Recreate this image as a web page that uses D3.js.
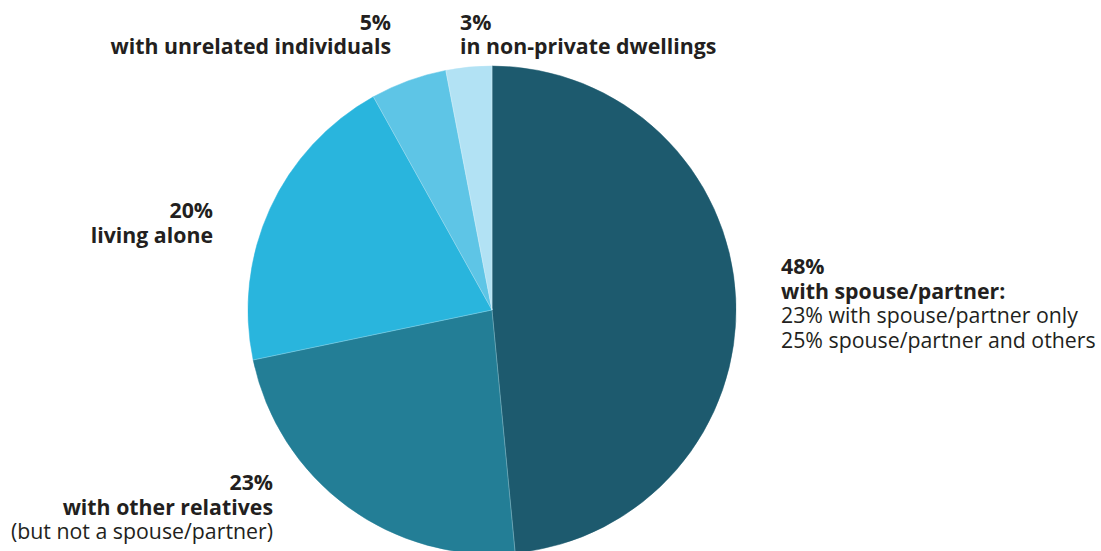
<!DOCTYPE html>
<html>
<head>
<meta charset="utf-8">
<script src="https://cdn.jsdelivr.net/npm/d3@7/dist/d3.min.js"></script>
<style>
  html, body { margin: 0; padding: 0; background: #ffffff; }
  svg { display: block; }
  text { font-family: "Open Sans", "Noto Sans", sans-serif; fill: #231f20; font-size: 21.3px; }
  .b { font-weight: 700; }
</style>
</head>
<body>
<svg id="chart" width="1101" height="551"></svg>
<script>
// Living arrangements, share of people (%)
const categories = ["with spouse/partner", "with other relatives", "living alone", "with unrelated individuals", "in non-private dwellings"];
const shares = [48, 23, 20, 5, 3];
const colors = ["#1d5a6e", "#237e96", "#29b5dd", "#5ec5e6", "#b2e2f4"];

// Label blocks: each line is [text, bold]
const labelLines = [
  [["48%", true], ["with spouse/partner:", true], ["23% with spouse/partner only", false], ["25% spouse/partner and others", false]],
  [["23%", true], ["with other relatives", true], ["(but not a spouse/partner)", false]],
  [["20%", true], ["living alone", true]],
  [["5%", true], ["with unrelated individuals", true]],
  [["3%", true], ["in non-private dwellings", true]]
];
// anchor point (first baseline) and alignment per label
const labelAnchors = [
  { x: 781, y: 274, align: "start" },
  { x: 273, y: 490, align: "end" },
  { x: 213, y: 218, align: "end" },
  { x: 391, y: 29.5, align: "end" },
  { x: 460, y: 29.5, align: "start" }
];

const svg = d3.select("#chart");
const cx = 492, cy = 310, radius = 244;

const pie = d3.pie().sort(null).value(d => d)(shares);
const arc = d3.arc().innerRadius(0).outerRadius(radius);

const g = svg.append("g").attr("transform", `translate(${cx},${cy})`);
g.selectAll("path")
  .data(pie)
  .join("path")
  .attr("d", arc)
  .attr("fill", (d, i) => colors[i])
  .attr("stroke", (d, i) => colors[i])
  .attr("stroke-width", 0.5);

// thin light separators between slices
g.selectAll("line.sep")
  .data(pie)
  .join("line")
  .attr("class", "sep")
  .attr("x1", 0).attr("y1", 0)
  .attr("x2", d => radius * Math.sin(d.startAngle))
  .attr("y2", d => -radius * Math.cos(d.startAngle))
  .attr("stroke", "#ffffff")
  .attr("stroke-opacity", 0.35)
  .attr("stroke-width", 0.8);

const lineHeight = 24.5;
labelLines.forEach((lines, i) => {
  const a = labelAnchors[i];
  const t = svg.append("text")
    .attr("text-anchor", a.align);
  lines.forEach((ln, j) => {
    t.append("tspan")
      .attr("x", a.x)
      .attr("y", a.y + j * lineHeight)
      .attr("class", ln[1] ? "b" : null)
      .text(ln[0]);
  });
});
</script>
</body>
</html>
